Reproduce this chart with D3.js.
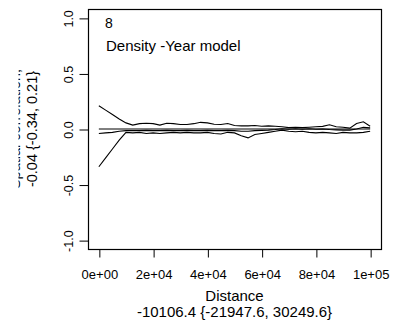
<!DOCTYPE html>
<html>
<head>
<meta charset="utf-8">
<title></title>
<script src="https://d3js.org/d3.v7.min.js"></script>
<style>
    html, body { margin: 0; padding: 0; background: #fff; }
    svg { display: block; font-family: "Liberation Sans", Arial, sans-serif; }
    text { fill: #000; }
</style>
</head>
<body>
<div id="chart"></div>
<script>
    // distance classes (x) and the three curves
    const distance = [0, 2500, 5000, 7500, 10000, 12500, 15000, 17500, 20000, 22500,
        25000, 27500, 30000, 32500, 35000, 37500, 40000, 42500, 45000, 47500,
        50000, 52500, 55000, 57500, 60000, 62500, 65000, 67500, 70000, 72500,
        75000, 77500, 80000, 82500, 85000, 87500, 90000, 92500, 95000, 97500, 100000];

    const upper = [0.21, 0.17, 0.13, 0.09, 0.055, 0.035, 0.048, 0.052, 0.048, 0.035,
        0.052, 0.048, 0.04, 0.04, 0.048, 0.06, 0.055, 0.043, 0.04, 0.05,
        0.032, 0.028, 0.028, 0.032, 0.025, 0.028, 0.025, 0.02, 0.012, 0.016,
        0.012, 0.016, 0.02, 0.024, 0.038, 0.02, 0.016, 0.008, 0.05, 0.065, 0.025];

    const lower = [-0.34, -0.26, -0.18, -0.10, -0.03, -0.035, -0.03, -0.04, -0.035, -0.04,
        -0.035, -0.03, -0.035, -0.03, -0.035, -0.035, -0.03, -0.04, -0.045, -0.03,
        -0.035, -0.06, -0.08, -0.05, -0.04, -0.03, -0.02, -0.01, -0.02, -0.025,
        -0.02, -0.03, -0.035, -0.03, -0.035, -0.04, -0.03, -0.035, -0.035, -0.03, -0.02];

    const estimate = [-0.04, -0.035, -0.03, -0.02, -0.015, -0.015, -0.015, -0.012, -0.015, -0.015,
        -0.012, -0.015, -0.015, -0.012, -0.015, -0.015, -0.012, -0.015, -0.015, -0.012,
        -0.015, -0.02, -0.02, -0.015, -0.012, -0.01, -0.005, 0.002, -0.002, 0.002,
        -0.002, 0.002, -0.002, 0.0, -0.005, -0.008, -0.01, -0.01, 0.0, 0.015, 0.01];

    const xTicks = [0, 20000, 40000, 60000, 80000, 100000];
    const xTickLabels = ["0e+00", "2e+04", "4e+04", "6e+04", "8e+04", "1e+05"];
    const yTicks = [-1, -0.5, 0, 0.5, 1];
    const yTickLabels = ["-1.0", "-0.5", "0.0", "0.5", "1.0"];

    const panelNumber = "8";
    const panelTitle = "Density -Year model";
    const xTitle = "Distance";
    const xSub = "-10106.4 {-21947.6, 30249.6}";
    const yTitle = "Spatial correlation,";
    const ySub = "-0.04 {-0.34, 0.21}";

    const W = 397, H = 326;
    // plot box (R style: data range padded by 4%)
    const box = { left: 88, top: 9, right: 381, bottom: 249 };

    const svg = d3.select("#chart").append("svg")
        .attr("width", W)
        .attr("height", H);

    svg.append("rect").attr("width", W).attr("height", H).attr("fill", "#fff");

    const x = d3.scaleLinear()
        .domain([-4000, 104000])
        .range([box.left, box.right]);

    const y = d3.scaleLinear()
        .domain([-1.08, 1.08])
        .range([box.bottom, box.top]);

    // box
    svg.append("rect")
        .attr("x", box.left + 0.5)
        .attr("y", box.top + 0.5)
        .attr("width", box.right - box.left)
        .attr("height", box.bottom - box.top)
        .attr("fill", "none")
        .attr("stroke", "#000")
        .attr("stroke-width", 1.2);

    // x axis
    const xAxis = svg.append("g")
        .attr("transform", `translate(0.5,${box.bottom + 0.5})`)
        .call(d3.axisBottom(x)
            .tickValues(xTicks)
            .tickFormat((d, i) => xTickLabels[i])
            .tickSize(8)
            .tickPadding(12)
            .tickSizeOuter(0));
    xAxis.select(".domain").remove();
    xAxis.selectAll("text")
        .attr("fill", "#000")
        .style("font-size", "13px")
        .style("font-family", "'Liberation Sans', Arial, sans-serif");
    xAxis.selectAll("line").attr("stroke", "#000");

    // y axis with rotated labels
    const yAxis = svg.append("g")
        .attr("transform", `translate(${box.left + 0.5},0.5)`)
        .call(d3.axisLeft(y)
            .tickValues(yTicks)
            .tickFormat(d => yTickLabels[yTicks.indexOf(d)])
            .tickSize(9)
            .tickSizeOuter(0));
    yAxis.select(".domain").remove();
    yAxis.selectAll("line").attr("stroke", "#000");
    yAxis.selectAll("text")
        .attr("x", null)
        .attr("dy", null)
        .attr("transform", "translate(-16,0) rotate(-90)")
        .attr("text-anchor", "middle")
        .attr("fill", "#000")
        .style("font-size", "12.5px")
        .style("font-family", "'Liberation Sans', Arial, sans-serif");

    // reference line at zero
    svg.append("line")
        .attr("x1", x(0)).attr("x2", x(100000))
        .attr("y1", y(0)).attr("y2", y(0))
        .attr("stroke", "#000")
        .attr("stroke-width", 1);

    const line = d3.line()
        .x((d, i) => x(distance[i]))
        .y(d => y(d));

    [upper, lower, estimate].forEach(series => {
        svg.append("path")
            .datum(series)
            .attr("d", line)
            .attr("fill", "none")
            .attr("stroke", "#000")
            .attr("stroke-width", 1.1);
    });

    // panel texts
    svg.append("text")
        .attr("x", 105).attr("y", 28)
        .style("font-size", "14px")
        .text(panelNumber);

    svg.append("text")
        .attr("x", 106).attr("y", 51)
        .style("font-size", "15px")
        .text(panelTitle);

    const cx = (box.left + box.right) / 2;
    svg.append("text")
        .attr("x", cx).attr("y", 301)
        .attr("text-anchor", "middle")
        .style("font-size", "15px")
        .text(xTitle);

    svg.append("text")
        .attr("x", cx).attr("y", 317)
        .attr("text-anchor", "middle")
        .style("font-size", "15px")
        .text(xSub);

    // y titles (first line is clipped by the figure edge)
    const cy = 129;
    svg.append("clipPath").attr("id", "yclip")
        .append("rect").attr("x", 18.5).attr("y", 0).attr("width", 6).attr("height", H);

    svg.append("g")
        .attr("clip-path", "url(#yclip)")
        .append("text")
        .attr("transform", `translate(20,${cy}) rotate(-90)`)
        .attr("text-anchor", "middle")
        .style("font-size", "14.5px")
        .text(yTitle);

    svg.append("text")
        .attr("transform", `translate(37,${cy}) rotate(-90)`)
        .attr("text-anchor", "middle")
        .style("font-size", "14.5px")
        .text(ySub);
</script>
</body>
</html>
